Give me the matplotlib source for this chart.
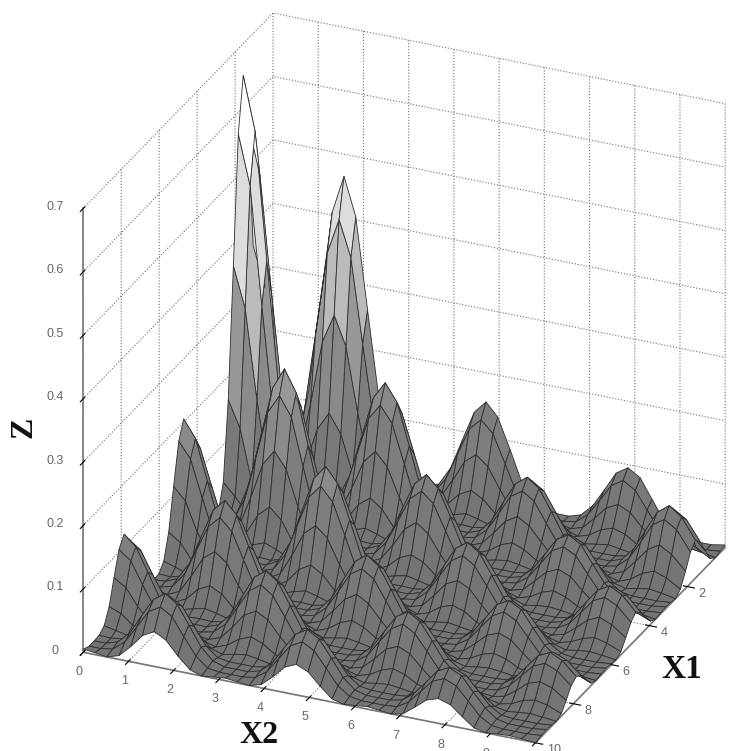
import matplotlib
matplotlib.use("Agg")
import numpy as np
import matplotlib.pyplot as plt
from matplotlib.colors import ListedColormap

plt.rcParams["font.family"] = "Liberation Sans"

# mesh positions along both ground axes
x1_vals = [0, .26, .52, .79, 1.05, 1.31, 1.57, 1.83, 2.09, 2.36, 2.62, 2.88, 3.14, 3.40, 3.67, 3.93, 4.19, 4.45, 4.71, 4.97,
           5.24, 5.50, 5.76, 6.02, 6.28, 6.54, 6.81, 7.07, 7.33, 7.59, 7.85, 8.12, 8.38, 8.64, 8.90, 9.16, 9.42, 9.69, 10]
x2_vals = list(x1_vals)

# surface height, one row per x1 value, one column per x2 value
z_rows = [
    [0,.002,.029,.116,.262,.405,.465,.405,.262,.116,.029,.002,0,.001,.010,.039,.087,.134,.154,.134,.087,.039,.010,.001,0,0,.006,.024,.053,.083,.095,.083,.053,.024,.006,0,0,0,.004],
    [.003,0,.016,.087,.217,.349,.405,.349,.217,.087,.016,0,.001,0,.005,.029,.072,.116,.134,.116,.072,.029,.005,0,0,0,.003,.018,.044,.071,.083,.071,.044,.018,.003,0,0,0,.002],
    [.041,.022,0,.029,.116,.217,.262,.217,.116,.029,0,.007,.013,.007,0,.010,.039,.072,.087,.072,.039,.010,0,.004,.007,.004,0,.006,.024,.044,.053,.044,.024,.006,0,.004,.007,.004,0],
    [.163,.122,.041,0,.029,.087,.116,.087,.029,0,.013,.039,.053,.039,.013,0,.010,.029,.039,.029,.010,0,.007,.020,.027,.020,.007,0,.006,.018,.024,.018,.006,0,.007,.020,.027,.020,.007],
    [.366,.303,.163,.041,0,.016,.029,.016,0,.013,.053,.098,.118,.098,.053,.013,0,.005,.010,.005,0,.007,.027,.049,.060,.049,.027,.007,0,.003,.006,.003,0,.007,.027,.049,.060,.049,.027],
    [.566,.488,.303,.122,.022,0,.002,0,.007,.039,.098,.158,.183,.158,.098,.039,.007,0,.001,0,.004,.020,.049,.080,.092,.080,.049,.020,.004,0,0,0,.004,.020,.049,.080,.092,.080,.049],
    [.65,.566,.366,.163,.041,.003,0,.001,.013,.053,.118,.183,.21,.183,.118,.053,.013,.001,0,0,.007,.027,.060,.092,.106,.092,.060,.027,.007,0,0,0,.007,.027,.060,.092,.106,.092,.060],
    [.566,.488,.303,.122,.022,0,.001,0,.007,.039,.098,.158,.183,.158,.098,.039,.007,0,.001,0,.004,.020,.049,.080,.092,.080,.049,.020,.004,0,0,0,.004,.020,.049,.080,.092,.080,.049],
    [.366,.303,.163,.041,0,.009,.016,.009,0,.013,.053,.098,.118,.098,.053,.013,0,.005,.009,.005,0,.007,.027,.049,.060,.049,.027,.007,0,.003,.005,.003,0,.007,.027,.049,.060,.049,.027],
    [.163,.122,.041,0,.016,.048,.065,.048,.016,0,.013,.039,.053,.039,.013,0,.009,.026,.034,.026,.009,0,.007,.020,.027,.020,.007,0,.005,.016,.022,.016,.005,0,.007,.020,.027,.020,.007],
    [.041,.022,0,.016,.065,.120,.145,.120,.065,.016,0,.007,.013,.007,0,.009,.034,.063,.077,.063,.034,.009,0,.004,.007,.004,0,.005,.022,.040,.048,.040,.022,.005,0,.004,.007,.004,0],
    [.003,0,.009,.048,.120,.194,.224,.194,.120,.048,.009,0,.001,0,.005,.026,.063,.102,.118,.102,.063,.026,.005,0,0,0,.003,.016,.040,.065,.075,.065,.040,.016,.003,0,0,0,.002],
    [0,.001,.016,.065,.145,.224,.258,.224,.145,.065,.016,.001,0,.001,.009,.034,.077,.118,.136,.118,.077,.034,.009,.001,0,0,.005,.022,.048,.075,.086,.075,.048,.022,.005,0,0,0,.003],
    [.001,0,.009,.048,.120,.194,.224,.194,.120,.048,.009,0,.001,0,.005,.026,.063,.102,.118,.102,.063,.026,.005,0,0,0,.003,.016,.040,.065,.075,.065,.040,.016,.003,0,0,0,.002],
    [.013,.007,0,.016,.065,.120,.145,.120,.065,.016,0,.006,.011,.006,0,.009,.034,.063,.077,.063,.034,.009,0,.003,.006,.003,0,.005,.022,.040,.048,.040,.022,.005,0,.003,.005,.003,0],
    [.051,.038,.013,0,.016,.048,.065,.048,.016,0,.011,.033,.044,.033,.011,0,.009,.026,.034,.026,.009,0,.006,.019,.025,.019,.006,0,.005,.016,.022,.016,.005,0,.005,.014,.019,.014,.005],
    [.115,.096,.051,.013,0,.009,.016,.009,0,.011,.044,.082,.098,.082,.044,.011,0,.005,.009,.005,0,.006,.025,.047,.056,.047,.025,.006,0,.003,.005,.003,0,.005,.019,.035,.043,.035,.019],
    [.178,.154,.096,.038,.007,0,.001,0,.006,.033,.082,.131,.152,.131,.082,.033,.006,0,.001,0,.003,.019,.047,.075,.087,.075,.047,.019,.003,0,0,0,.003,.014,.035,.057,.066,.057,.035],
    [.205,.178,.115,.051,.013,.001,0,.001,.011,.044,.098,.152,.175,.152,.098,.044,.011,.001,0,0,.006,.025,.056,.087,.10,.087,.056,.025,.006,0,0,0,.005,.019,.043,.066,.076,.066,.043],
    [.178,.154,.096,.038,.007,0,.001,0,.006,.033,.082,.131,.152,.131,.082,.033,.006,0,0,0,.003,.019,.047,.075,.087,.075,.047,.019,.003,0,0,0,.003,.014,.035,.057,.066,.057,.035],
    [.115,.096,.051,.013,0,.005,.009,.005,0,.011,.044,.082,.098,.082,.044,.011,0,.004,.007,.004,0,.006,.025,.047,.056,.047,.025,.006,0,.003,.005,.003,0,.005,.019,.035,.043,.035,.019],
    [.051,.038,.013,0,.009,.028,.037,.028,.009,0,.011,.033,.044,.033,.011,0,.007,.020,.027,.020,.007,0,.006,.019,.025,.019,.006,0,.005,.015,.020,.015,.005,0,.005,.014,.019,.014,.005],
    [.013,.007,0,.009,.037,.069,.083,.069,.037,.009,0,.006,.011,.006,0,.007,.027,.049,.060,.049,.027,.007,0,.003,.006,.003,0,.005,.020,.037,.044,.037,.020,.005,0,.003,.005,.003,0],
    [.001,0,.005,.028,.069,.110,.128,.110,.069,.028,.005,0,.001,0,.004,.020,.049,.080,.092,.080,.049,.020,.004,0,0,0,.003,.015,.037,.059,.069,.059,.037,.015,.003,0,0,0,.002],
    [0,.001,.009,.037,.083,.128,.147,.128,.083,.037,.009,.001,0,0,.007,.027,.060,.092,.106,.092,.060,.027,.007,0,0,0,.005,.020,.044,.069,.079,.069,.044,.020,.005,0,0,0,.003],
    [.001,0,.005,.028,.069,.110,.128,.110,.069,.028,.005,0,0,0,.004,.020,.049,.080,.092,.080,.049,.020,.004,0,0,0,.003,.015,.037,.059,.069,.059,.037,.015,.003,0,0,0,.002],
    [.008,.004,0,.009,.037,.069,.083,.069,.037,.009,0,.004,.007,.004,0,.007,.027,.049,.060,.049,.027,.007,0,.003,.005,.003,0,.005,.020,.037,.044,.037,.020,.005,0,.002,.004,.002,0],
    [.030,.023,.008,0,.009,.028,.037,.028,.009,0,.007,.020,.027,.020,.007,0,.007,.020,.027,.020,.007,0,.005,.016,.022,.016,.005,0,.005,.015,.020,.015,.005,0,.004,.013,.017,.013,.004],
    [.068,.056,.030,.008,0,.005,.009,.005,0,.007,.027,.050,.060,.050,.027,.007,0,.004,.007,.004,0,.005,.022,.041,.049,.041,.022,.005,0,.003,.005,.003,0,.004,.017,.032,.038,.032,.017],
    [.104,.090,.056,.023,.004,0,.001,0,.004,.020,.050,.080,.093,.080,.050,.020,.004,0,0,0,.003,.016,.041,.065,.076,.065,.041,.016,.003,0,0,0,.002,.013,.032,.051,.059,.051,.032],
    [.12,.104,.068,.030,.008,.001,0,0,.007,.027,.060,.093,.107,.093,.060,.027,.007,0,0,0,.005,.022,.049,.076,.087,.076,.049,.022,.005,0,0,0,.004,.017,.038,.059,.068,.059,.038],
    [.104,.090,.056,.023,.004,0,0,0,.004,.020,.050,.080,.093,.080,.050,.020,.004,0,0,0,.003,.016,.041,.065,.076,.065,.041,.016,.003,0,0,0,.002,.013,.032,.051,.059,.051,.032],
    [.068,.056,.030,.008,0,.003,.006,.003,0,.007,.027,.050,.060,.050,.027,.007,0,.003,.005,.003,0,.005,.022,.041,.049,.041,.022,.005,0,.002,.004,.002,0,.004,.017,.032,.038,.032,.017],
    [.030,.023,.008,0,.006,.018,.024,.018,.006,0,.007,.020,.027,.020,.007,0,.005,.016,.021,.016,.005,0,.005,.016,.022,.016,.005,0,.004,.013,.018,.013,.004,0,.004,.013,.017,.013,.004],
    [.008,.004,0,.006,.024,.045,.055,.045,.024,.006,0,.004,.007,.004,0,.005,.021,.040,.048,.040,.021,.005,0,.003,.005,.003,0,.004,.018,.033,.039,.033,.018,.004,0,.002,.004,.002,0],
    [.001,0,.003,.018,.045,.073,.084,.073,.045,.018,.003,0,0,0,.003,.016,.040,.064,.074,.064,.040,.016,.003,0,0,0,.002,.013,.033,.053,.061,.053,.033,.013,.002,0,0,0,.002],
    [0,0,.006,.024,.055,.084,.097,.084,.055,.024,.006,0,0,0,.005,.021,.048,.074,.085,.074,.048,.021,.005,0,0,0,.004,.018,.039,.061,.07,.061,.039,.018,.004,0,0,0,.003],
    [0,0,.003,.018,.045,.073,.084,.073,.045,.018,.003,0,0,0,.003,.016,.040,.064,.074,.064,.040,.016,.003,0,0,0,.002,.013,.033,.053,.061,.053,.033,.013,.002,0,0,0,.002],
    [.005,.003,0,.006,.024,.045,.055,.045,.024,.006,0,.002,.004,.002,0,.005,.021,.040,.048,.040,.021,.005,0,.002,.004,.002,0,.004,.018,.033,.039,.033,.018,.004,0,.002,.003,.002,0],
]

x1_ticks = [2, 4, 6, 8, 10]
x2_ticks = [0, 1, 2, 3, 4, 5, 6, 7, 8, 9, 10]
z_ticks = [0, 0.1, 0.2, 0.3, 0.4, 0.5, 0.6, 0.7]
z_tick_labels = ["0", "0.1", "0.2", "0.3", "0.4", "0.5", "0.6", "0.7"]

# grey per 0.05 of height
grey_levels = ["#757575", "#797979", "#7e7e7e", "#8a8a8a", "#989898", "#aaaaaa", "#bbbbbb",
               "#dddddd", "#dddddd", "#dddddd", "#ffffff", "#ffffff", "#ffffff", "#ffffff"]

fig = plt.figure(figsize=(7.37, 7.51), dpi=100)
ax = fig.add_axes([0.035, -0.007, 1.0, 0.981], projection="3d", proj_type="ortho")
ax.view_init(elev=27, azim=23.8)
ax.set_box_aspect((470, 494, 498), zoom=1.113)

X2, X1 = np.meshgrid(x2_vals, x1_vals)
Z = np.array(z_rows)
ax.plot_surface(X1, X2, Z, rstride=1, cstride=1, cmap=ListedColormap(grey_levels),
                vmin=0, vmax=0.7, edgecolor="#2e2e2e", linewidth=0.6, shade=False, antialiased=True)

ax.set_xlim(0, 10, view_margin=0)
ax.set_ylim(0, 10, view_margin=0)
ax.set_zlim(0, 0.7, view_margin=0)
ax.set_xticks(x1_ticks)
ax.set_yticks(x2_ticks)
ax.set_zticks(z_ticks)
ax.set_zticklabels(z_tick_labels)

for axis in (ax.xaxis, ax.yaxis, ax.zaxis):
    axis.set_pane_color((1, 1, 1, 0))
    axis.pane.set_edgecolor((1, 1, 1, 0))
    axis.line.set_color("#787878")
    axis.line.set_linewidth(1.2)
    axis._axinfo["grid"].update(color="#707070", linestyle=":", linewidth=0.8)
    axis._axinfo["tick"].update(color="#787878")
ax.tick_params(labelsize=9, labelcolor="#666666", pad=1)
ax.tick_params(axis="y", pad=-2)
ax.tick_params(axis="x", pad=-1)
ax.tick_params(axis="z", pad=4)

# labels sit higher than the default place
for lab in ax.get_xticklabels():
    lab.set_va("bottom")
    lab.set_ha("left")
for lab in ax.get_zticklabels():
    lab.set_va("bottom")

fig.text(0.925, 0.108, "X1", family="Liberation Serif", weight="bold", size=24, color="#111111", ha="center", va="center")
fig.text(0.351, 0.021, "X2", family="Liberation Serif", weight="bold", size=23, color="#111111", ha="center", va="center")
fig.text(0.032, 0.431, "Z", family="Liberation Serif", weight="bold", size=23, color="#111111", ha="center", va="center", rotation=90)

fig.savefig("out.png", dpi=100)
